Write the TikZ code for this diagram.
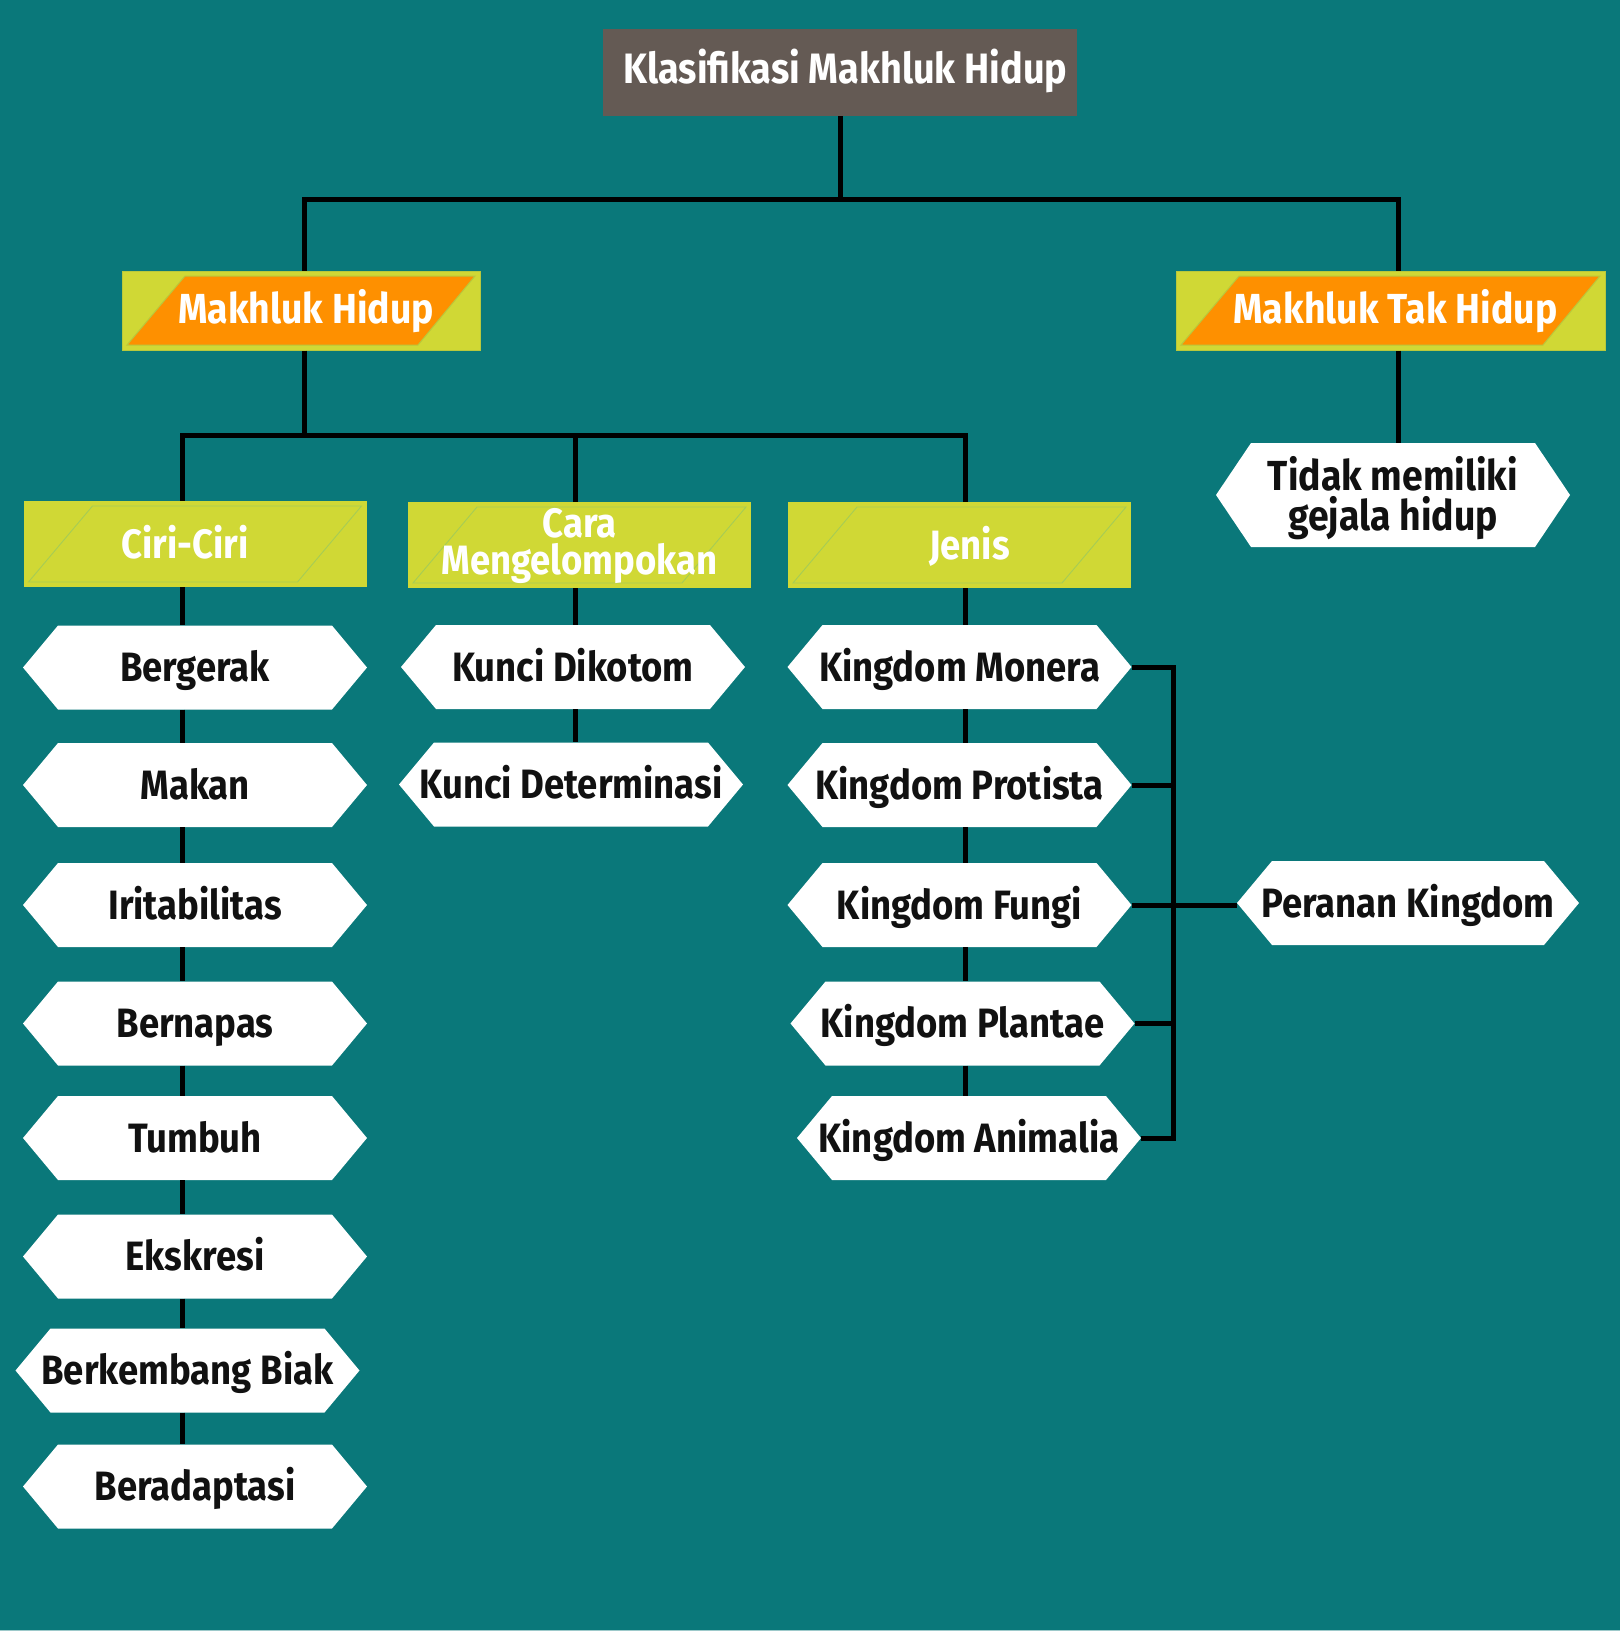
\documentclass[tikz,border=0pt]{standalone}
\usepackage{fontspec}
\newfontfamily\lbl{Fira Sans}[FakeStretch=0.89]
\usetikzlibrary{calc}
\definecolor{bgteal}{HTML}{0A787A}
\definecolor{titlegrey}{HTML}{645A54}
\definecolor{ygreen}{HTML}{D0D835}
\definecolor{orng}{HTML}{FE9000}
\definecolor{thinline}{HTML}{A6CC55}
\definecolor{boxedge}{HTML}{B9C83C}
\definecolor{inkblack}{HTML}{111111}
\newcommand\hexd{35pt}
\tikzset{
  conn/.style={line width=5pt, black},
  hexbox/.style={minimum width=344pt, minimum height=84pt, inner sep=0pt,
    fill=bgteal, text=inkblack, text height=28pt, text depth=0pt,
    font=\lbl\bfseries\fontsize{41}{41}\selectfont,
    path picture={\fill[white]
      (path picture bounding box.west)
      -- ([xshift=\hexd]path picture bounding box.north west)
      -- ([xshift=-\hexd]path picture bounding box.north east)
      -- (path picture bounding box.east)
      -- ([xshift=-\hexd]path picture bounding box.south east)
      -- ([xshift=\hexd]path picture bounding box.south west) -- cycle;}},
  headbox/.style={minimum width=343pt, minimum height=86pt, inner sep=0pt,
    fill=ygreen, text=white, text height=28pt, text depth=0pt,
    font=\lbl\bfseries\fontsize{41}{41}\selectfont,
    path picture={\draw[thinline, line width=0.9pt]
      ([xshift=5pt,yshift=5pt]path picture bounding box.south west)
      -- ([xshift=69pt,yshift=-5pt]path picture bounding box.north west)
      -- ([xshift=-5pt,yshift=-5pt]path picture bounding box.north east)
      -- ([xshift=-69pt,yshift=5pt]path picture bounding box.south east) -- cycle;}},
  orangebox/.style={minimum height=79pt, inner sep=0pt,
    fill=ygreen, draw=boxedge, line width=1pt, text=white,
    text height=28pt, text depth=3pt,
    font=\lbl\bfseries\fontsize{42}{42}\selectfont,
    path picture={\filldraw[fill=orng, draw=boxedge, line width=1pt]
      ([xshift=5pt,yshift=5pt]path picture bounding box.south west)
      -- ([xshift=63pt,yshift=-5pt]path picture bounding box.north west)
      -- ([xshift=-5pt,yshift=-5pt]path picture bounding box.north east)
      -- ([xshift=-62pt,yshift=5pt]path picture bounding box.south east) -- cycle;}},
  titlebox/.style={minimum width=474pt, minimum height=87pt, inner sep=0pt,
    fill=titlegrey, text=white, text height=30pt, text depth=8pt,
    font=\lbl\bfseries\fontsize{42.5}{42.5}\selectfont}
}
\begin{document}
\begin{tikzpicture}[x=1pt,y=-1pt]
\useasboundingbox (0,0) rectangle (1620,1631);
\fill[bgteal] (0,0) rectangle (1620,1631);
\fill[bgteal!40!white] (0,1629.8) rectangle (1620,1631);

% title and first level
\node[titlebox] (title) at (840,72.5) {\hspace*{11pt}Klasifikasi Makhluk Hidup};
\node[orangebox, minimum width=358pt] (mh) at (301,310.5) {\hspace*{10pt}Makhluk Hidup};
\node[orangebox, minimum width=429pt] (mth) at (1390.5,310.5) {\hspace*{10pt}Makhluk Tak Hidup};

% second level headers
\node[headbox] (ciri) at (195,544) {\hspace*{-20pt}Ciri-Ciri};
\node[headbox, text height=65pt, text depth=7pt, align=center,
      font=\lbl\bfseries\fontsize{41}{37}\selectfont] (cara) at (579.5,545) {Cara\\Mengelompokan};
\node[headbox] (jenis) at (959.5,545) {\hspace*{20pt}Jenis};

% Ciri-ciri items
\node[hexbox] (h1) at (195,667.5) {Bergerak};
\node[hexbox] (h2) at (195,785) {Makan};
\node[hexbox] (h3) at (195,905) {Iritabilitas};
\node[hexbox] (h4) at (195,1023.5) {Bernapas};
\node[hexbox] (h5) at (195,1138) {Tumbuh};
\node[hexbox] (h6) at (195,1256.5) {Ekskresi};
\node[hexbox] (h7) at (187.5,1370.5) {Berkembang Biak};
\node[hexbox] (h8) at (195,1486.5) {Beradaptasi};

% Cara items
\node[hexbox] (dik) at (573,667) {Kunci Dikotom};
\node[hexbox] (det) at (571,784.5) {Kunci Determinasi};

% Jenis items
\node[hexbox] (mon) at (959.5,667) {Kingdom Monera};
\node[hexbox] (pro) at (959.5,785) {Kingdom Protista};
\node[hexbox] (fun) at (959.5,905) {Kingdom Fungi};
\node[hexbox] (pla) at (962.5,1023.5) {Kingdom Plantae};
\node[hexbox] (ani) at (969,1138) {Kingdom Animalia};

% right side
\node[hexbox, minimum width=342pt] (per) at (1408,903) {Peranan Kingdom};
\node[hexbox, minimum width=354pt, minimum height=104pt, align=center,
      text height=70pt, text depth=0pt,
      font=\lbl\bfseries\fontsize{42}{40}\selectfont] (tidak) at (1393,495) {Tidak memiliki\\gejala hidup};

% column coordinates
\coordinate (xmh) at (304,0);
\coordinate (xmth) at (1398,0);
\coordinate (xci) at (182,0);
\coordinate (xca) at (575,0);
\coordinate (xje) at (965,0);
\coordinate (xbr) at (1173,0);
\coordinate (j1) at (840,199);
\coordinate (j2) at (304,435);
\coordinate (j3) at (575,435);

% connectors
\draw[conn] (title.south) -- (j1);
\draw[conn] (mh.north -| xmh) |- (j1) -| (mth.north -| xmth);
\draw[conn] (mh.south -| xmh) -- (j2);
\draw[conn] (ciri.north -| xci) |- (j2) -| (jenis.north -| xje);
\draw[conn] (cara.north -| xca) -- (j3);
\draw[conn] (mth.south -| xmth) -- (tidak.north -| xmth);

\foreach \a/\b in {ciri/h1,h1/h2,h2/h3,h3/h4,h4/h5,h5/h6,h6/h7,h7/h8}
  \draw[conn] (\a.south -| xci) -- (\b.north -| xci);
\foreach \a/\b in {cara/dik,dik/det}
  \draw[conn] (\a.south -| xca) -- (\b.north -| xca);
\foreach \a/\b in {jenis/mon,mon/pro,pro/fun,fun/pla,pla/ani}
  \draw[conn] (\a.south -| xje) -- (\b.north -| xje);

\draw[conn] (mon.east) -- (mon.east -| xbr) -- (ani.east -| xbr) -- (ani.east);
\draw[conn] (pro.east) -- (pro.east -| xbr);
\draw[conn] (pla.east) -- (pla.east -| xbr);
\draw[conn] (fun.east) -- (fun.east -| per.west);
\end{tikzpicture}
\end{document}
